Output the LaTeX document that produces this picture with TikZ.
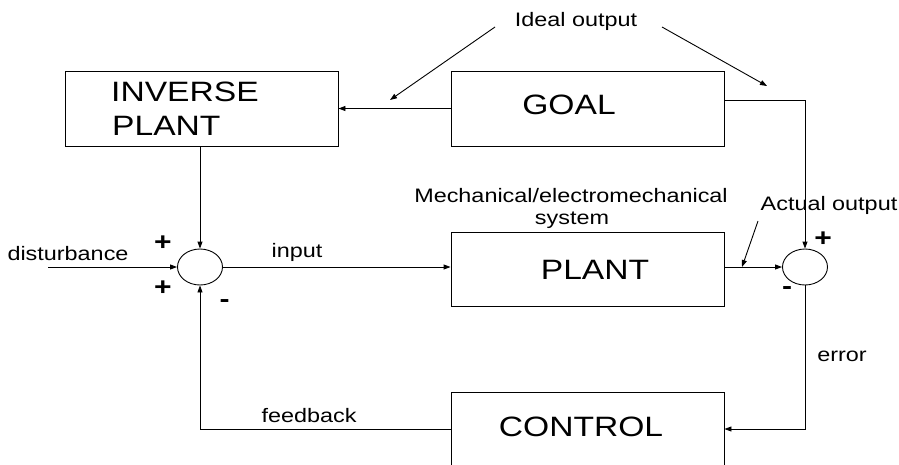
\documentclass[tikz,border=0pt]{standalone}
\usepackage{fontspec}
\setmainfont{Liberation Sans}[FakeStretch=1.2]
\usetikzlibrary{arrows.meta,shapes.geometric,calc}
\tikzset{
  blk/.style={draw, line width=0.9pt, rectangle, inner sep=0pt},
  sumj/.style={draw, line width=0.9pt, ellipse, minimum width=45pt, minimum height=36pt, inner sep=0pt},
  wire/.style={line width=0.9pt},
  arr/.style={wire, -{Triangle[length=7pt,width=5pt]}},
  small/.style={font=\fontsize{19.5}{23}\selectfont, inner sep=0pt, anchor=base},
  big/.style={font=\fontsize{28}{33.5}\selectfont, inner sep=0pt, anchor=base},
  sign/.style={font=\fontsize{25}{27}\selectfont\bfseries, inner sep=0pt}
}
\begin{document}
\begin{tikzpicture}[x=1pt,y=-1pt]
\useasboundingbox (0,0) rectangle (899,464);
\fill[white] (0,0) rectangle (899,464);
\clip (0,0) rectangle (899,464);

% blocks
\node[blk, minimum width=273pt, minimum height=75pt] (inv) at (201.5,108.5) {};
\node[blk, minimum width=273pt, minimum height=75pt] (goal) at (587.5,108.5) {};
\node[blk, minimum width=273pt, minimum height=74pt] (plant) at (587.5,269) {};
\node[blk, minimum width=273pt, minimum height=74pt] (control) at (587.5,429) {};

% summing junctions
\node[sumj] (s1) at (200,267) {};
\node[sumj] (s2) at (805,267) {};

% block texts
\node[big, anchor=base west] (tinv1) at (111,101.5) {INVERSE};
\node[big, anchor=base west] (tinv2) at (112,135) {PLANT};
\node[big] (tgoal) at (569,114.3) {GOAL};
\node[big] (tplant) at (595,279.3) {PLANT};
\node[big] (tcontrol) at (581,436.7) {CONTROL};

% labels
\node[small] (ideal) at (576,26.7) {Ideal output};
\node[small] (mech1) at (571,202.3) {Mechanical/electromechanical};
\node[small] (mech2) at (572,224) {system};
\node[small] (actual) at (829,210) {Actual output};
\node[small] (dist) at (68,260) {disturbance};
\node[small] (input) at (297,257) {input};
\node[small] (fb) at (309,422.7) {feedback};
\node[small] (err) at (842,361.7) {error};

% signs
\node[sign] (p1) at (163,243) {+};
\node[sign] (p2) at (163,288) {+};
\node[sign] (m1) at (224.5,304) {-};
\node[sign] (p3) at (823,239) {+};
\node[sign] (m2) at (787,291) {-};

% coordinates
\coordinate (goalout) at ($(goal.north east)+(0,30)$);
\coordinate (d0) at (48,267);
\coordinate (il1s) at (495,27);
\coordinate (il1e) at (390,100);
\coordinate (il2s) at (662,27);
\coordinate (il2e) at (767,86);
\coordinate (aps) at (758,221);
\coordinate (ape) at (742,267);

% connectors
\draw[arr] (goal.west) -- (inv.east);
\draw[arr] (inv.south -| s1.north) -- (s1.north);
\draw[arr] (d0) -- (s1.west);
\draw[arr] (s1.east) -- (s1.east -| plant.west);
\draw[arr] (plant.east |- s2.west) -- (s2.west);
\draw[arr] (goalout) -| (s2.north);
\draw[arr] (s2.south) |- (control.east);
\draw[arr] (control.west) -| (s1.south);
\draw[arr] (il1s) -- (il1e);
\draw[arr] (il2s) -- (il2e);
\draw[arr] (aps) -- (ape);
\end{tikzpicture}
\end{document}
